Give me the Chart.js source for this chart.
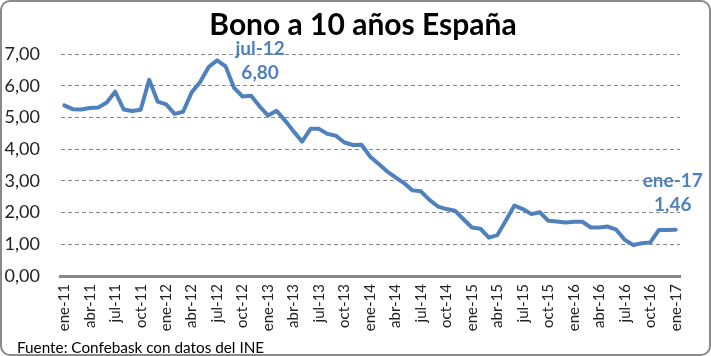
<!DOCTYPE html>
<html>
<head>
<meta charset="utf-8">
<script src="https://cdn.jsdelivr.net/npm/chart.js@4/dist/chart.umd.min.js"></script>
<style>
  html, body { margin: 0; padding: 0; background: #ffffff; }
  #wrap { position: relative; width: 711px; height: 356px; box-sizing: border-box;
          border: 2px solid #8a8a8a; border-radius: 10px; overflow: hidden; background: #fff; }
  #chart { position: absolute; left: -2px; top: -2px; }
</style>
</head>
<body>
<div id="wrap"><canvas id="chart" width="711" height="356"></canvas></div>
<script>
// ---- Data ----
const MONTHS = ["ene", "feb", "mar", "abr", "may", "jun", "jul", "ago", "sep", "oct", "nov", "dic"];
const YEARS = ["11", "12", "13", "14", "15", "16", "17"];
const TITLE = "Bono a 10 años España";
const SOURCE = "Fuente: Confebask con datos del INE";

// Monthly yield, ene-11 .. ene-17
const bono10 = [
  5.38, 5.26, 5.25, 5.30, 5.31, 5.47, 5.81, 5.25, 5.20, 5.24, 6.19, 5.50,
  5.41, 5.11, 5.18, 5.79, 6.12, 6.59, 6.80, 6.61, 5.93, 5.66, 5.68, 5.35,
  5.06, 5.21, 4.90, 4.56, 4.24, 4.64, 4.64, 4.48, 4.42, 4.21, 4.13, 4.14,
  3.77, 3.54, 3.30, 3.11, 2.93, 2.70, 2.67, 2.40, 2.19, 2.11, 2.06, 1.79,
  1.53, 1.49, 1.21, 1.29, 1.75, 2.22, 2.11, 1.95, 2.01, 1.74, 1.72, 1.69,
  1.71, 1.71, 1.53, 1.53, 1.56, 1.46, 1.14, 0.98, 1.03, 1.06, 1.45, 1.45,
  1.46
];
// Points with a value label
const highlighted = ["jul-12", "ene-17"];

const categories = [];
YEARS.forEach(y => MONTHS.forEach(m => categories.push(m + "-" + y)));
categories.length = bono10.length;

const fmt = v => v.toFixed(2).replace(".", ",");
const BLUE = "#4F81BD";
const FONT = "Lato, 'Noto Sans', sans-serif";

// label offsets relative to the point (style only)
const labelOffsets = { "jul-12": { dx: 43, dy: -11 }, "ene-17": { dx: -3, dy: -49 } };

const pointLabels = {
  id: "pointLabels",
  afterDatasetsDraw(chart) {
    const ctx = chart.ctx;
    const xs = chart.scales.x, ys = chart.scales.y;
    ctx.save();
    ctx.fillStyle = BLUE;
    ctx.font = "bold 19px " + FONT;
    ctx.textAlign = "center";
    ctx.textBaseline = "middle";
    highlighted.forEach(cat => {
      const i = categories.indexOf(cat);
      const px = xs.getPixelForValue(i);
      const py = ys.getPixelForValue(bono10[i]);
      const o = labelOffsets[cat];
      ctx.fillText(cat, px + o.dx, py + o.dy);
      ctx.fillText(fmt(bono10[i]), px + o.dx, py + o.dy + 24);
    });
    ctx.restore();
  }
};

const texts = {
  id: "texts",
  afterDraw(chart) {
    const ctx = chart.ctx;
    ctx.save();
    ctx.fillStyle = "#000";
    ctx.textBaseline = "middle";
    ctx.textAlign = "center";
    ctx.font = "bold 30px " + FONT;
    ctx.fillText(TITLE, 363, 25);
    ctx.textAlign = "left";
    ctx.font = "15.3px " + FONT;
    ctx.fillText(SOURCE, 17, 348);
    ctx.restore();
  }
};

new Chart(document.getElementById("chart"), {
  type: "line",
  data: {
    labels: categories,
    datasets: [{
      data: bono10,
      borderColor: BLUE,
      borderWidth: 4,
      pointRadius: 0,
      tension: 0,
      borderJoinStyle: "round",
      borderCapStyle: "round",
      fill: false
    }]
  },
  options: {
    responsive: false,
    animation: false,
    devicePixelRatio: 1,
    layout: { padding: { left: 0, right: 0, top: 54, bottom: 20.2 } },
    plugins: {
      legend: { display: false },
      tooltip: { enabled: false },
      title: { display: false },
      subtitle: { display: false }
    },
    scales: {
      x: {
        type: "category",
        offset: true,
        grid: { display: false, drawTicks: false },
        border: { display: true, color: "#878787", width: 3 },
        ticks: {
          autoSkip: false, maxRotation: 90, minRotation: 90, padding: 8,
          color: "#222", font: { family: FONT, size: 15 },
          callback: function (v, i) { return i % 3 === 0 ? categories[i] : null; }
        },
        afterFit: s => { s.height = 59.8; }
      },
      y: {
        min: 0, max: 7,
        grid: { color: "#888888", lineWidth: 1, drawTicks: false, borderDash: [4, 3] },
        border: { display: true, color: "rgba(0,0,0,0)", dash: [4, 3] },
        ticks: {
          stepSize: 1, padding: 20, color: "#222",
          font: { family: FONT, size: 18 },
          callback: v => fmt(v)
        },
        afterFit: s => { s.width = 60; }
      },
      yR: {
        position: "right", display: true,
        grid: { display: false, drawTicks: false },
        border: { display: false },
        ticks: { display: false },
        afterFit: s => { s.width = 31; }
      }
    }
  },
  plugins: [pointLabels, texts]
});
</script>
</body>
</html>
